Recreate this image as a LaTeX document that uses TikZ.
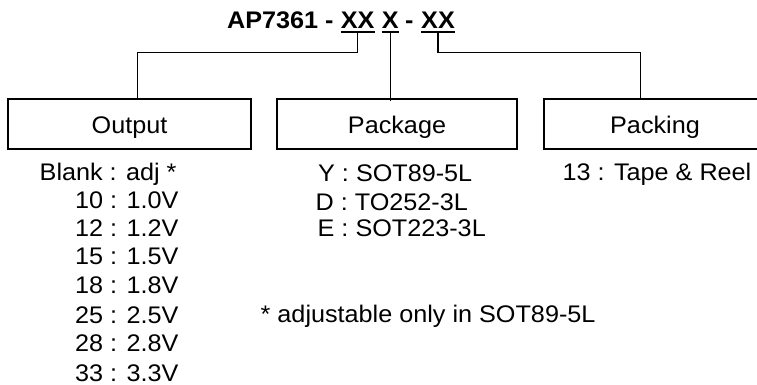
\documentclass[tikz,border=0pt]{standalone}
\usepackage{fontspec}
\setmainfont{Liberation Sans}[FakeStretch=1.05]
\begin{document}
\begin{tikzpicture}[x=1pt,y=-1pt,
  box/.style={draw,line width=1.7pt,minimum height=50pt,inner sep=0pt,text height=20pt,text depth=0pt,font=\fontsize{24}{28}\selectfont},
  conn/.style={line width=1.4pt},
  uline/.style={line width=2pt},
  txt/.style={inner sep=0pt,anchor=base west,font=\fontsize{24}{28}\selectfont},
  ttl/.style={inner sep=0pt,anchor=base west,font=\bfseries\fontsize{24}{28}\selectfont}]
\useasboundingbox (0,0) rectangle (757,385);
% title
\node[ttl] (t0) at (227,29) {AP7361 -};
\node[ttl] (t1) at (340.7,29) {XX};
\node[ttl] (t2) at (381.7,29) {X};
\node[ttl] (t3) at (405,29) {-};
\node[ttl] (t4) at (421,29) {XX};
\foreach \n in {t1,t2,t4}{
  \draw[uline] ([yshift=-3pt]\n.base west) -- ([yshift=-3pt]\n.base east);
}
% boxes
\node[box,minimum width=243pt] (out) at (129.5,124) {Output};
\node[box,minimum width=240pt] (pkg) at (397,124) {Package};
\begin{scope}
\clip (0,0) rectangle (757,385);
\node[box,minimum width=222pt] (pck) at (655,124) {Packing};
\end{scope}
% connectors
\coordinate (j1) at (137.7,52.7);
\coordinate (j3) at (640.7,52.7);
\draw[conn] ([yshift=-3pt]t1.base) |- (j1) -- (j1 |- out.north);
\draw[conn] ([yshift=-3pt]t2.base) -- ([yshift=-3pt]t2.base |- pkg.north);
\draw[conn] ([yshift=-3pt]t4.base) |- (j3) -- (j3 |- pck.north);
% output list
\node[txt] (o0) at (39.5,180.5) {Blank : adj *};
\node[txt] (o1) at (75,208.3) {10 : 1.0V};
\node[txt] (o2) at (75,236.7) {12 : 1.2V};
\node[txt] (o3) at (75,264.3) {15 : 1.5V};
\node[txt] (o4) at (75,293.3) {18 : 1.8V};
\node[txt] (o5) at (75,323.3) {25 : 2.5V};
\node[txt] (o6) at (75,351.7) {28 : 2.8V};
\node[txt,text depth=0pt] (o7) at (75,381) {33 : 3.3V};
% package list
\node[txt] (p0) at (318,181.7) {Y : SOT89-5L};
\node[txt] (p1) at (315.5,210) {D : TO252-3L};
\node[txt] (p2) at (317.5,236) {E : SOT223-3L};
\node[txt] (fn) at (260.5,322.7) {* adjustable only in SOT89-5L};
% packing list
\node[txt] (k0) at (562.5,180.5) {13 : Tape \& Reel};
\end{tikzpicture}
\end{document}
